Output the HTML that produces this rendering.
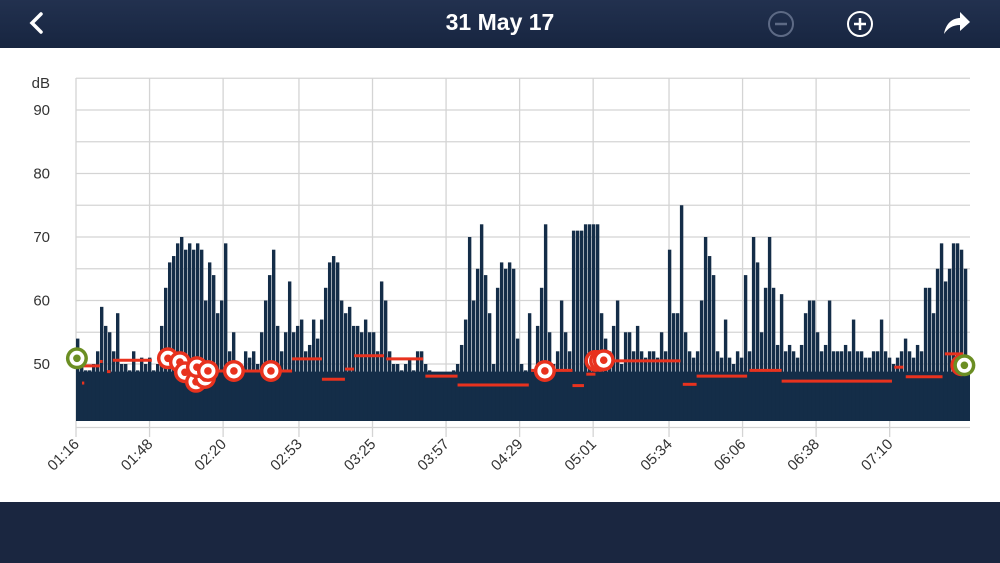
<!DOCTYPE html>
<html><head><meta charset="utf-8"><style>
html,body{margin:0;padding:0;width:1000px;height:563px;overflow:hidden;background:#fff;font-family:"Liberation Sans",sans-serif}
#hdr{position:absolute;left:0;top:0;width:1000px;height:48px;background:linear-gradient(#22314f,#172540)}
#ftr{position:absolute;left:0;top:502px;width:1000px;height:61px;background:#1a2640}
#title{position:absolute;left:0;width:1000px;top:9px;text-align:center;color:#fff;font-weight:bold;font-size:23px}
svg{position:absolute;left:0;top:0}
</style></head><body>
<div id="hdr">
<div id="title">31 May 17</div>
<svg width="1000" height="48">
<polyline points="41,14 32,23 41,32" fill="none" stroke="#fff" stroke-width="3.5" stroke-linecap="round"/>
<g><circle cx="781" cy="24" r="12" fill="none" stroke="#5d6a85" stroke-width="2"/><line x1="775" y1="24" x2="787" y2="24" stroke="#5d6a85" stroke-width="2.5"/></g>
<g><circle cx="860" cy="24" r="12" fill="none" stroke="#fff" stroke-width="2"/><line x1="854" y1="24" x2="866" y2="24" stroke="#fff" stroke-width="2.5"/><line x1="860" y1="18" x2="860" y2="30" stroke="#fff" stroke-width="2.5"/></g>
<path d="M944,34 C946,22 954,18 960,18 L960,12 L970,22 L960,31 L960,25 C953,25 948,28 944,34 Z" fill="#fff"/>
</svg>
</div>
<svg id="chart" width="1000" height="563" style="top:0"></svg>
<div id="ftr"></div>
<script>
const levels=[54,52,49,49,50,52,59,56,55,52,58,50,50,49,52,49,51,50,51,49,50,56,62,66,67,69,70,68,69,68,69,68,60,66,64,58,60,69,52,55,50,49,52,51,52,50,55,60,64,68,56,52,55,63,55,56,57,52,53,57,54,57,62,66,67,66,60,58,59,56,56,55,57,55,55,52,63,60,52,50,50,49,50,51,49,52,52,50,49,48,48,47,48,48,49,50,53,57,70,60,65,72,64,58,50,62,66,65,66,65,54,50,49,58,48,56,62,72,55,50,52,60,55,52,71,71,71,72,72,72,72,58,54,52,56,60,50,55,55,52,56,52,51,52,52,51,55,52,68,58,58,75,55,52,51,52,60,70,67,64,52,51,57,51,50,52,51,64,52,70,66,55,62,70,62,53,61,52,53,52,51,53,58,60,60,55,52,53,60,52,52,52,53,52,57,52,52,51,51,52,52,57,52,51,50,51,52,54,52,51,53,52,62,62,58,65,69,63,65,69,69,68,65];
const floorDb=[48.8];
const binMin=1.74;
const segStart=[2.6,16,107,117,121,135,152,166,198,216,222,233,264,270,293,307,356,361,378,61,94,2.6,10.4,13.5];
const segEnd=[10.4,33,117,121,134,151,166,197,216,221,226,263,270,292,307,355,360,377,386,94,107,3.6,11.6,15];
const segDb=[49.7,50.6,47.6,49.2,51.3,50.8,48.1,46.7,49,46.6,48.4,50.5,46.8,48.1,49,47.3,49.5,48,51.6,48.9,50.8,47,50.4,48.8];
const ringMin=[40,45.2,47.4,52.2,56.1,52.6,57.4,68.7,84.8,204,226,228,229.6,385.2];
const ringDb=[50.9,50.3,48.7,47.2,47.8,49.5,48.9,48.9,48.9,48.9,50.5,50.5,50.6,49.8];
const greenMin=[0.4,386.5];
const greenDb=[50.9,49.8];
const yTicks=[50,60,70,80,90];
const tickMin=[0,32,64,97,129,161,193,225,258,290,322,354];
const tickLabels=["01:16","01:48","02:20","02:53","03:25","03:57","04:29","05:01","05:34","06:06","06:38","07:10"];

const NS="http://www.w3.org/2000/svg",svg=document.getElementById('chart');
const X=m=>76+m*2.2985, Y=v=>364-(v-50)*6.35;
function mk(t,a,p){const e=document.createElementNS(NS,t);for(const k in a)e.setAttribute(k,a[k]);(p||svg).appendChild(e);return e;}
for(let d=40;d<=95;d+=5){const l=mk('line',{x1:76,x2:970,y1:Y(d),y2:Y(d),stroke:'#d4d4d4','stroke-width':1.3});

}
tickMin.forEach((m,i)=>{const l=mk('line',{x1:X(m),x2:X(m),y1:78,y2:437,stroke:'#d4d4d4','stroke-width':1.3});


const t=mk('text',{x:X(m)+4,y:445,'font-size':15,fill:'#333','text-anchor':'end',transform:`rotate(-45 ${X(m)+4} 445)`});t.textContent=tickLabels[i];

});
yTicks.forEach(v=>{const t=mk('text',{x:50,y:Y(v)+5,'font-size':15,fill:'#333','text-anchor':'end'});t.textContent=v;

});
const u=mk('text',{x:50,y:88,'font-size':15,fill:'#333','text-anchor':'end'});u.textContent='dB';


const g=mk('g',{fill:'#142d48'});


const fl=mk('rect',{x:76,y:Y(floorDb[0]),width:894,height:421-Y(floorDb[0])},g);


levels.forEach((v,i)=>{const x0=X(i*binMin),x1=Math.min(970,X((i+1)*binMin));
const r=mk('rect',{x:x0,y:Y(v),width:Math.max(0,(x1-x0)*0.85),height:421-Y(v)},g);

});
segStart.forEach((s,i)=>{const l=mk('line',{x1:X(s),x2:X(segEnd[i]),y1:Y(segDb[i]),y2:Y(segDb[i]),stroke:'#e8321e','stroke-width':3});

});
function ring(m,d,c){const gg=mk('g',{});


mk('circle',{cx:X(m),cy:Y(d),r:11,fill:c},gg);mk('circle',{cx:X(m),cy:Y(d),r:7.5,fill:'#fff'},gg);mk('circle',{cx:X(m),cy:Y(d),r:3.8,fill:c},gg);}
ringMin.forEach((m,i)=>ring(m,ringDb[i],'#e8321e'));
greenMin.forEach((m,i)=>ring(m,greenDb[i],'#6b8e23'));
</script>
</body></html>
